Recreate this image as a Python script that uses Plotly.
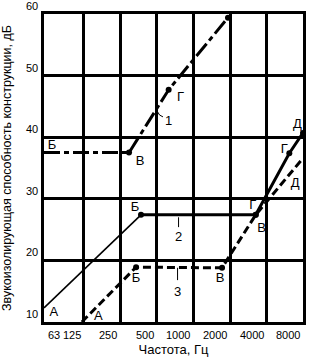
import numpy as np
import plotly.graph_objects as go

# ---- data ----
x_min_hz = 58.5
x_max_hz = 8000
freq_ticks = [63, 125, 250, 500, 1000, 2000, 4000, 8000]
freq_labels = ["63", "125", "250", "500", "1000", "2000", "4000", "8000"]
db_ticks = [10, 20, 30, 40, 50, 60]
db_labels = ["10", "20", "30", "40", "50", "60"]

# curve 1 (dash-dot)
c1_f = [58.5, 294, 624, 1925]
c1_db = [37.5, 37.5, 47.7, 59.4]

# curve 2 (solid): thin part, thick part
c2a_f = [58.5, 369]
c2a_db = [12.3, 27.4]
c2b_f = [369, 3260, 6170, 8000]
c2b_db = [27.4, 27.4, 37.4, 40.7]

# curve 3 (dashed)
c3_f = [120, 336, 1720, 3260, 8000]
c3_db = [10.0, 18.9, 18.8, 27.4, 36.6]

# point letters
lbl_text = ["Б", "В", "Г", "1", "Д", "Г", "Д", "Г", "В", "2", "3", "В", "Б", "Б", "А", "А"]
lbl_f = [68, 362, 782, 624, 7178, 5617, 6897, 3077, 3646, 753, 739, 1657, 329, 336, 70.6, 164]
lbl_db = [38.6, 36.0, 46.4, 42.5, 42.1, 37.9, 32.4, 28.8, 25.1, 23.6, 14.7, 17.0, 28.5, 17.1, 11.5, 10.8]

# leader ticks for curve numbers
lead1_f = [488, 525, 560]
lead1_db = [44.6, 43.6, 43.3]
lead2_f = [753, 753]
lead2_db = [27.0, 25.4]
lead3_f = [739, 739]
lead3_db = [18.8, 16.8]

FONT = "Liberation Sans, Arial, sans-serif"
TICK_SIZE = 11

fig = go.Figure()

fig.add_trace(go.Scatter(x=c1_f, y=c1_db, mode="lines+markers",
                         line=dict(color="black", width=3, dash="16px,4px,5px,4px"),
                         marker=dict(color="black", size=6), cliponaxis=False))
fig.add_trace(go.Scatter(x=c2a_f, y=c2a_db, mode="lines",
                         line=dict(color="black", width=1.6), cliponaxis=False))
fig.add_trace(go.Scatter(x=c2b_f, y=c2b_db, mode="lines+markers",
                         line=dict(color="black", width=3),
                         marker=dict(color="black", size=6), cliponaxis=False))
fig.add_trace(go.Scatter(x=c3_f, y=c3_db, mode="lines",
                         line=dict(color="black", width=3, dash="8px,4px"), cliponaxis=False))
fig.add_trace(go.Scatter(x=c3_f[1:4], y=c3_db[1:4], mode="markers",
                         marker=dict(color="black", size=6), cliponaxis=False))

for lf, ld in [(lead1_f, lead1_db), (lead2_f, lead2_db), (lead3_f, lead3_db)]:
    fig.add_trace(go.Scatter(x=lf, y=ld, mode="lines",
                             line=dict(color="black", width=1)))

fig.add_trace(go.Scatter(x=lbl_f, y=lbl_db, mode="text", text=lbl_text,
                         textposition="middle center",
                         textfont=dict(family=FONT, size=13, color="black"),
                         cliponaxis=False))

annotations = []
# x tick labels right-aligned to grid lines
for f, t in zip(freq_ticks, freq_labels):
    if f == 63:
        annotations.append(dict(x=np.log10(x_min_hz), xref="x", y=0, yref="paper",
                                text=t, showarrow=False, xanchor="left", yanchor="top",
                                xshift=2, yshift=-5,
                                font=dict(family=FONT, size=TICK_SIZE, color="black")))
    else:
        annotations.append(dict(x=np.log10(f), xref="x", y=0, yref="paper",
                                text=t, showarrow=False, xanchor="right", yanchor="top",
                                xshift=-1, yshift=-5,
                                font=dict(family=FONT, size=TICK_SIZE, color="black")))
# y tick labels sitting just above their grid lines
for v, t in zip(db_ticks, db_labels):
    annotations.append(dict(x=0, xref="paper", y=v, yref="y", text=t, showarrow=False,
                            xanchor="right", yanchor="bottom", xshift=-4, yshift=0,
                            font=dict(family=FONT, size=TICK_SIZE, color="black")))

fig.update_layout(
    width=311, height=358,
    margin=dict(l=44, r=5, t=14, b=36),
    paper_bgcolor="white", plot_bgcolor="white",
    showlegend=False,
    font=dict(family=FONT, color="black"),
    annotations=annotations,
)

fig.update_xaxes(type="log", range=[np.log10(x_min_hz), np.log10(x_max_hz)],
                 tickvals=freq_ticks[1:], showticklabels=False,
                 showgrid=True, gridcolor="black", gridwidth=3,
                 showline=True, linecolor="black", linewidth=3, mirror=True,
                 zeroline=False, ticks="",
                 title=dict(text="Частота, Гц", font=dict(family=FONT, size=13), standoff=21))
fig.update_yaxes(range=[10, 60], tickvals=db_ticks, showticklabels=False,
                 showgrid=True, gridcolor="black", gridwidth=3,
                 showline=True, linecolor="black", linewidth=3, mirror=True,
                 zeroline=False, ticks="",
                 title=dict(text="Звукоизолирующая способность конструкции, дБ",
                            font=dict(family=FONT, size=12.5), standoff=27))

fig.write_html("out.html")
